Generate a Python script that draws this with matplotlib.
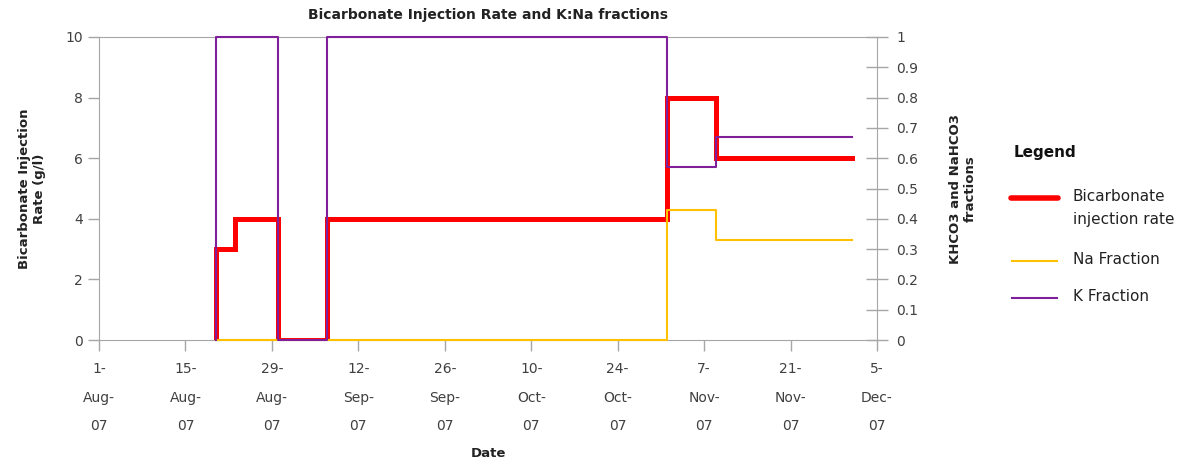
import datetime as dt
import matplotlib
matplotlib.use("Agg")
import matplotlib.pyplot as plt
from matplotlib.lines import Line2D

# step data (value holds until the next date)
rate_dates = ["2007-08-20", "2007-08-20", "2007-08-23", "2007-08-30",
              "2007-09-07", "2007-11-01", "2007-11-09", "2007-12-01"]
rate_vals = [0, 3, 4, 0, 4, 8, 6, 6]

k_dates = ["2007-08-20", "2007-08-20", "2007-08-30", "2007-09-07",
           "2007-11-01", "2007-11-09", "2007-12-01"]
k_vals = [0, 1, 0, 1, 0.57, 0.67, 0.67]

na_dates = ["2007-08-20", "2007-11-01", "2007-11-09", "2007-12-01"]
na_vals = [0, 0.43, 0.33, 0.33]

tick_dates = ["2007-08-01", "2007-08-15", "2007-08-29", "2007-09-12", "2007-09-26",
              "2007-10-10", "2007-10-24", "2007-11-07", "2007-11-21", "2007-12-05"]

legend_labels = ["Bicarbonate\ninjection rate", "Na Fraction", "K Fraction"]

RED = "#ff0000"
NA_COL = "#ffc000"
K_COL = "#7f1f9a"
GREY = "#a6a6a6"
TXT = "#404040"
DARK = "#222222"


def to_dt(lst):
    return [dt.datetime.strptime(s, "%Y-%m-%d") for s in lst]


plt.rcParams["font.family"] = ["DejaVu Sans"]

W, H = 1185, 467
fig = plt.figure(figsize=(W / 100, H / 100), dpi=100)
ax = fig.add_axes([99 / W, 1 - 340 / H, (877 - 99) / W, (340 - 37) / H])
ax2 = ax.twinx()

ax.step(to_dt(rate_dates), rate_vals, where="post", color=RED, lw=3.6,
        solid_joinstyle="miter", zorder=3)
ax2.step(to_dt(na_dates), na_vals, where="post", color=NA_COL, lw=1.5,
         clip_on=False, zorder=3)
ax2.step(to_dt(k_dates), k_vals, where="post", color=K_COL, lw=1.5,
         clip_on=False, zorder=3)

ticks = to_dt(tick_dates)
ax.set_xlim(ticks[0], ticks[-1])
ax.set_xticks(ticks)
ax.set_xticklabels([d.strftime("%-d-\n%b-\n%y") for d in ticks], linespacing=2.3,
                   color=TXT, fontsize=10)
ax.set_ylim(0, 10)
ax.set_yticks(range(0, 11, 2))
ax2.set_ylim(0, 1)
ax2.set_yticks([i / 10 for i in range(11)])
ax2.set_yticklabels(["0"] + [f"{i / 10:g}" for i in range(1, 10)] + ["1"])

for a in (ax, ax2):
    for s in a.spines.values():
        s.set_color(GREY)
        s.set_zorder(1)
    a.tick_params(colors=GREY, labelcolor=TXT, labelsize=10, length=8, width=1)
ax.spines["right"].set_visible(False)
ax2.spines["left"].set_visible(False)
ax2.spines["bottom"].set_visible(False)
ax2.spines["top"].set_visible(False)
ax2.tick_params(axis="y", direction="inout", length=16, pad=6)
ax.tick_params(axis="x", pad=8)

ax.set_title("Bicarbonate Injection Rate and K:Na fractions", fontsize=10,
             fontweight="bold", color=DARK, pad=13)
ax.set_xlabel("Date", fontsize=9.5, fontweight="bold", color=DARK, labelpad=10)
ax.set_ylabel("Bicarbonate Injection\nRate (g/l)", fontsize=9.5, fontweight="bold",
              color=DARK, labelpad=14)
ax2.set_ylabel("KHCO3 and NaHCO3\nfractions", fontsize=9.5, fontweight="bold",
               color=DARK, labelpad=22)

# legend drawn by hand so the handle sits on the first text line, as in the original
fig.text(1014 / W, 1 - 153 / H, "Legend", fontsize=11, fontweight="bold",
         color="#111111", va="center", ha="left")
leg_rows = [(198, RED, 4), (261, NA_COL, 1.5), (298, K_COL, 1.5)]
for (y, col, lw), lab in zip(leg_rows, legend_labels):
    fy = 1 - y / H
    fig.add_artist(Line2D([1011 / W, 1058 / W], [fy, fy], color=col, lw=lw,
                          solid_capstyle="round" if lw > 2 else "butt"))
    fig.text(1073 / W, 1 - (y - 9) / H, lab, fontsize=11, color=DARK,
             va="top", ha="left", linespacing=1.7)

fig.savefig("out.png", dpi=100)
